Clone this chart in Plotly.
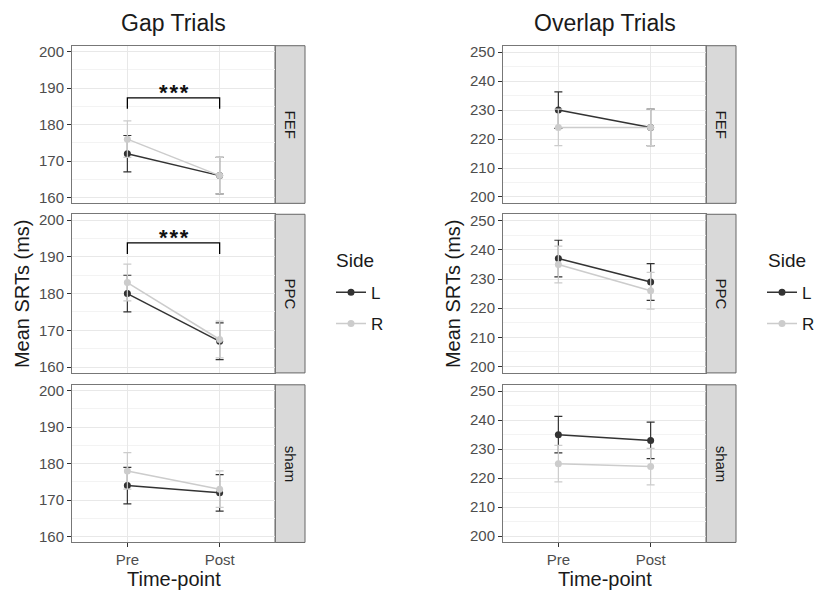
import plotly.graph_objects as go

W, H = 822, 599
OFF = 8  # page body margin of the browser
FW, FH = W - OFF, H - OFF

timepoints = ["Pre", "Post"]
regions = ["FEF", "PPC", "sham"]
sides = ["L", "R"]

gap_L = {"FEF": [172, 166], "PPC": [180, 167], "sham": [174, 172]}
gap_R = {"FEF": [176, 166], "PPC": [183, 167.5], "sham": [178, 173]}
gap_err_L = {"FEF": [5, 5], "PPC": [5, 5], "sham": [5, 5]}
gap_err_R = {"FEF": [5, 5], "PPC": [5, 5], "sham": [5, 5]}

overlap_L = {"FEF": [230, 224], "PPC": [237, 229], "sham": [235, 233]}
overlap_R = {"FEF": [224, 224], "PPC": [235, 226], "sham": [225, 224]}
overlap_err_L = {"FEF": [6.3, 6.3], "PPC": [6.3, 6.3], "sham": [6.3, 6.3]}
overlap_err_R = {"FEF": [6.3, 6.3], "PPC": [6.3, 6.3], "sham": [6.3, 6.3]}

# significance brackets (Gap trials): [end y, top y]
bracket_x = ["Pre", "Pre", "Post", "Post"]
bracket = {"FEF": [184.3, 187.3], "PPC": [190.8, 193.8]}
star_label = "<b>*\u200a*\u200a*</b>"

gap_range = [158.4, 201.6]
overlap_range = [197.8, 252.2]
gap_ticks = [160, 170, 180, 190, 200]
overlap_ticks = [200, 210, 220, 230, 240, 250]

colors = {"L": "#333333", "R": "#cccccc"}

rows_px = [(43, 202), (213, 373), (385, 544)]
cols_px = [(72, 275), (503, 706)]
strip_w = 30


def fx(x):
    return (x - OFF) / FW


def fy(y):
    return 1 - (y - OFF) / FH


fig = go.Figure()
layout = {}
annotations = []
shapes = []

panels = [
    (0, gap_L, gap_R, gap_err_L, gap_err_R, gap_range, gap_ticks, "legend"),
    (1, overlap_L, overlap_R, overlap_err_L, overlap_err_R, overlap_range, overlap_ticks, "legend2"),
]

idx = 0
for col, dL, dR, eL, eR, yr, yt, leg in panels:
    x0, x1 = cols_px[col]
    for r, region in enumerate(regions):
        idx += 1
        y0, y1 = rows_px[r]
        xa = "x" if idx == 1 else f"x{idx}"
        ya = "y" if idx == 1 else f"y{idx}"
        xkey = "xaxis" if idx == 1 else f"xaxis{idx}"
        ykey = "yaxis" if idx == 1 else f"yaxis{idx}"
        layout[xkey] = dict(
            domain=[fx(x0), fx(x1)], anchor=ya, type="category",
            categoryorder="array", categoryarray=timepoints,
            range=[-0.6, 1.6], showgrid=True, gridcolor="#e8e8e8", gridwidth=1,
            showline=True, mirror=True, linecolor="#777777", linewidth=1,
            ticks="outside" if r == 2 else "", ticklen=4, tickwidth=1.3, tickcolor="#333333",
            showticklabels=(r == 2), tickfont=dict(size=15, color="#4d4d4d"),
            zeroline=False, fixedrange=True,
        )
        layout[ykey] = dict(
            domain=[fy(y1), fy(y0)], anchor=xa, range=yr, tickvals=yt,
            showgrid=True, gridcolor="#e8e8e8", gridwidth=1,
            minor=dict(dtick=5, tick0=0, showgrid=True, gridcolor="#f3f3f3", gridwidth=0.6, ticks=""),
            showline=True, mirror=True, linecolor="#777777", linewidth=1,
            ticks="outside", ticklen=4, tickwidth=1.3, tickcolor="#333333",
            tickfont=dict(size=15, color="#4d4d4d"), zeroline=False, fixedrange=True,
        )
        for side, d, e in (("L", dL, eL), ("R", dR, eR)):
            fig.add_trace(go.Scatter(
                x=timepoints, y=d[region], xaxis=xa, yaxis=ya,
                mode="lines+markers", name=side, legendgroup=side,
                line=dict(color=colors[side], width=1.5),
                marker=dict(color=colors[side], size=7),
                error_y=dict(type="data", array=e[region], visible=True,
                             color=colors[side], thickness=1.2, width=4),
                legend=leg, showlegend=(r == 0),
            ))
        if col == 0 and region in bracket:
            yb0, yb1 = bracket[region]
            fig.add_trace(go.Scatter(
                x=bracket_x, y=[yb0, yb1, yb1, yb0], xaxis=xa, yaxis=ya,
                mode="lines", line=dict(color="black", width=1.3),
                showlegend=False, hoverinfo="skip",
            ))
            annotations.append(dict(
                x=0.5, y=yb1, xref=xa, yref=ya, text=star_label, showarrow=False,
                yanchor="bottom", yshift=-9,
                font=dict(size=22, color="#111111", family="Liberation Sans, Arial"),
            ))
        # strip
        shapes.append(dict(
            type="rect", xref="paper", yref="paper",
            x0=fx(x1), x1=fx(x1 + strip_w), y0=fy(y1), y1=fy(y0),
            fillcolor="#d9d9d9", line=dict(color="#666666", width=1), layer="below",
        ))
        annotations.append(dict(
            x=fx(x1 + strip_w / 2), y=fy((y0 + y1) / 2), xref="paper", yref="paper",
            text=region, textangle=90, showarrow=False,
            font=dict(size=15, color="#1a1a1a"), xanchor="center", yanchor="middle",
        ))

titles = ["Gap Trials", "Overlap Trials"]
ytitle_x = [22, 453]
legend_x = [335, 767]
for col in range(2):
    x0, x1 = cols_px[col]
    cx = (x0 + x1) / 2
    annotations.append(dict(x=fx(cx), y=fy(20), xref="paper", yref="paper",
                            text=titles[col], showarrow=False,
                            font=dict(size=23, color="#1a1a1a"),
                            xanchor="center", yanchor="middle"))
    annotations.append(dict(x=fx(cx), y=fy(581), xref="paper", yref="paper",
                            text="Time-point", showarrow=False,
                            font=dict(size=20, color="#1a1a1a"),
                            xanchor="center", yanchor="middle"))
    annotations.append(dict(x=fx(ytitle_x[col]), y=fy((rows_px[0][0] + rows_px[2][1]) / 2),
                            xref="paper", yref="paper", text="Mean SRTs (ms)",
                            textangle=-90, showarrow=False,
                            font=dict(size=20, color="#1a1a1a"),
                            xanchor="center", yanchor="middle"))
    annotations.append(dict(x=fx(legend_x[col] - 1), y=fy(260), xref="paper", yref="paper",
                            text="Side", showarrow=False,
                            font=dict(size=19, color="#1a1a1a"),
                            xanchor="left", yanchor="middle"))

leg_common = dict(
    font=dict(size=17, color="#1a1a1a"), bgcolor="rgba(0,0,0,0)",
    xanchor="left", yanchor="top", itemwidth=30, tracegroupgap=6,
)
layout["legend"] = dict(x=fx(331), y=fy(274), **leg_common)
layout["legend2"] = dict(x=fx(762), y=fy(274), **leg_common)

fig.update_layout(
    width=FW, height=FH, margin=dict(l=0, r=0, t=0, b=0),
    paper_bgcolor="white", plot_bgcolor="white",
    font=dict(family="Liberation Sans, Arial, sans-serif"),
    annotations=annotations, shapes=shapes, **layout,
)

fig.write_html("out.html")
